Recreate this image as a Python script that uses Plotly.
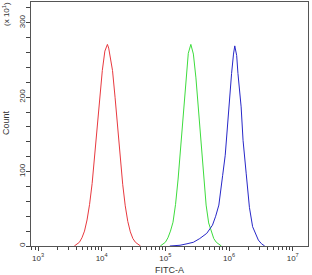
import plotly.graph_objects as go

# log10(FITC-A) positions and counts (x10^1)
red_log = [3.57, 3.61, 3.65, 3.69, 3.73, 3.77, 3.81, 3.85, 3.89, 3.93, 3.97, 4.01, 4.05, 4.09,
           4.11, 4.13, 4.17, 4.21, 4.25, 4.29, 4.33, 4.37, 4.41, 4.45, 4.49, 4.53, 4.57, 4.61]
red_cnt = [0, 2, 5, 11, 20, 35, 56, 84, 121, 160, 200, 236, 262, 271,
           266, 255, 236, 200, 160, 119, 83, 54, 33, 19, 10, 5, 2, 0]

green_log = [4.92, 4.96, 5.00, 5.04, 5.08, 5.12, 5.16, 5.20, 5.24, 5.28, 5.32, 5.36, 5.40,
             5.44, 5.48, 5.52, 5.56, 5.60, 5.64, 5.68, 5.72, 5.76, 5.80, 5.84, 5.88]
green_cnt = [0, 2, 5, 11, 20, 32, 56, 90, 134, 183, 227, 259, 271,
             258, 226, 182, 133, 89, 55, 31, 19, 10, 5, 2, 0]

blue_log = [5.07, 5.23, 5.34, 5.44, 5.54, 5.65, 5.74, 5.79, 5.84, 5.87, 5.90, 5.94, 5.96,
            6.00, 6.04, 6.07, 6.09, 6.12, 6.14, 6.19, 6.22, 6.27, 6.32, 6.37, 6.42, 6.46,
            6.51, 6.56]
blue_cnt = [0, 1, 3, 5, 10, 17, 28, 40, 55, 72, 95, 122, 145,
            190, 232, 258, 269, 256, 232, 187, 142, 97, 52, 26, 15, 8,
            3, 0]

x_ticks_log = [3, 4, 5, 6, 7]
y_ticks = [0, 100, 200, 300]

fig = go.Figure()
for lg, cnt, col in [(red_log, red_cnt, "#e8393f"),
                     (green_log, green_cnt, "#3ddc3d"),
                     (blue_log, blue_cnt, "#2727c8")]:
    fig.add_trace(go.Scatter(x=[10 ** v for v in lg], y=cnt, mode="lines",
                             line=dict(color=col, width=1), showlegend=False,
                             hoverinfo="skip"))

font = "Liberation Sans, Arial, sans-serif"
fig.update_layout(
    width=312, height=275,
    margin=dict(l=31, r=4, t=2, b=29),
    paper_bgcolor="white", plot_bgcolor="white",
    font=dict(family=font, size=8, color="#333"),
    xaxis=dict(type="log", range=[2.89, 7.24],
               tickvals=[10 ** v for v in x_ticks_log],
               ticktext=[f"10<sup>{v}</sup>" for v in x_ticks_log],
               ticks="outside", ticklen=4, tickcolor="#444",
               showline=True, linecolor="#555", linewidth=1.2, mirror=True,
               showgrid=False, zeroline=False,
               minor=dict(ticks="outside", ticklen=3, tickcolor="#444", dtick="D1", showgrid=False),
               tickfont=dict(size=8, color="#333"),
               title=dict(text="FITC-A", font=dict(size=9, color="#333"), standoff=4)),
    yaxis=dict(range=[0, 328], tickvals=y_ticks, ticktext=[str(v) for v in y_ticks],
               tickangle=-90, ticklabelstandoff=-2,
               ticks="outside", ticklen=4, tickcolor="#444",
               showline=True, linecolor="#555", linewidth=1.2, mirror=True,
               showgrid=False, zeroline=False,
               minor=dict(ticks="outside", ticklen=4, tickcolor="#444", dtick=20, showgrid=False),
               tickfont=dict(size=8, color="#333")),
    annotations=[
        dict(text="Count", textangle=-90, xref="paper", yref="paper",
             x=-25 / 277, y=(246 - 123) / 244, showarrow=False,
             font=dict(size=9, color="#333"), xanchor="center", yanchor="middle"),
        dict(text="(x 10<sup>1</sup>)", textangle=-90, xref="paper", yref="paper",
             x=-25 / 277, y=(246 - 14) / 244, showarrow=False,
             font=dict(size=8, color="#333"), xanchor="center", yanchor="middle"),
    ],
)
fig.write_html("out.html")
